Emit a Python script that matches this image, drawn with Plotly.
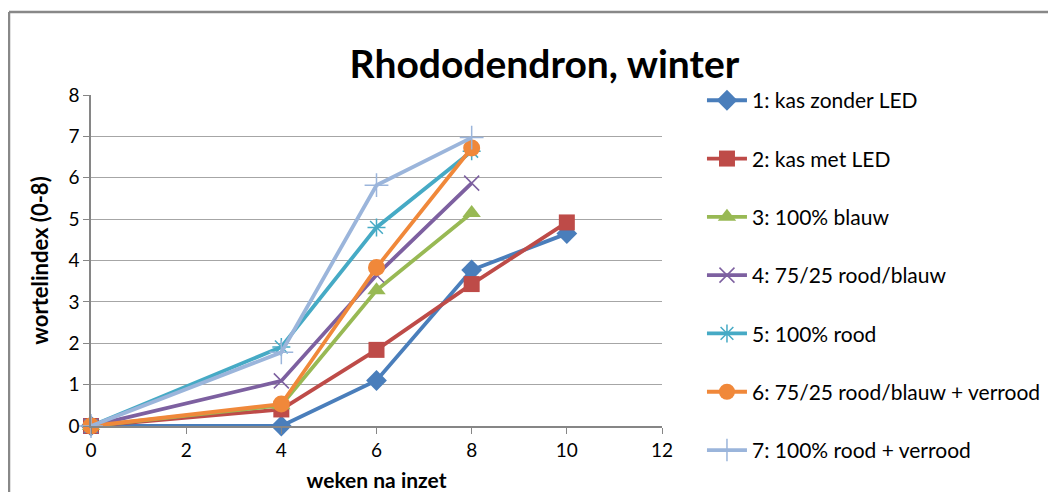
import plotly.graph_objects as go

weeks = [0, 4, 6, 8, 10]
weeks_short = [0, 4, 6, 8]

kas_zonder_led = [0, 0, 1.1, 3.77, 4.65]
kas_met_led = [0, 0.4, 1.84, 3.43, 4.92]
blauw_100 = [0, 0.5, 3.28, 5.15]
rood_blauw_75_25 = [0, 1.09, 3.65, 5.87]
rood_100 = [0, 1.91, 4.8, 6.64]
rood_blauw_verrood = [0, 0.53, 3.83, 6.72]
rood_verrood = [0, 1.78, 5.82, 6.97]

names = ["1: kas zonder LED", "2: kas met LED", "3: 100% blauw", "4: 75/25 rood/blauw",
         "5: 100% rood", "6: 75/25 rood/blauw + verrood", "7: 100% rood + verrood"]

FONT = "Lato"

def marker_style(symbol, size, color):
    if symbol.endswith("-open"):
        return dict(symbol=symbol, size=size, color=color, line=dict(width=1.5, color=color))
    return dict(symbol=symbol, size=size, color=color, line=dict(width=0))

series = [
    (weeks, kas_zonder_led, "#4a7ebb", "diamond", 16),
    (weeks, kas_met_led, "#be4b48", "square", 16),
    (weeks_short, blauw_100, "#98b954", "triangle-up", 16),
    (weeks_short, rood_blauw_75_25, "#7d60a0", "x-thin-open", 15),
    (weeks_short, rood_100, "#46aac5", "asterisk-open", 15),
    (weeks_short, rood_blauw_verrood, "#f0883a", "circle", 17),
    (weeks_short, rood_verrood, "#9bb5db", "cross-thin-open", 17),
]

fig = go.Figure()
for i, (xs, ys, col, sym, sz) in enumerate(series):
    fig.add_trace(go.Scatter(x=xs, y=ys, name=names[i], mode="lines+markers",
                             line=dict(color=col, width=3.8),
                             marker=marker_style(sym, sz, col),
                             cliponaxis=False, legendgroup=str(i)))

# outer chart frame (top and left edges visible)
fig.add_shape(type="line", xref="paper", yref="paper", x0=-0.1436, x1=-0.1436, y0=-0.5, y1=1.2508,
              line=dict(color="#888888", width=2.5))
fig.add_shape(type="line", xref="paper", yref="paper", x0=-0.1436, x1=2.0, y0=1.2508, y1=1.2508,
              line=dict(color="#888888", width=2.5))

fig.update_layout(
    width=1056, height=492,
    margin=dict(l=83, r=402, t=87, b=74, autoexpand=False),
    paper_bgcolor="white", plot_bgcolor="white",
    font=dict(family=FONT, color="#000000", size=19),
    title=dict(text="<b>Rhododendron, winter</b>", x=0.508, xanchor="center",
               y=0.885, yanchor="middle", font=dict(size=39, family=FONT)),
    legend=dict(x=1.07, y=1.045, xanchor="left", yanchor="top", tracegroupgap=28,
                font=dict(size=21, family=FONT), itemwidth=40, bgcolor="rgba(0,0,0,0)",
                maxheight=1.0),
    showlegend=True,
)

fig.update_xaxes(range=[0, 12], tickvals=[0, 2, 4, 6, 8, 10, 12], showgrid=False,
                 showline=True, linecolor="#868686", linewidth=1.5, automargin=False,
                 ticks="outside", ticklen=6, tickcolor="#868686", zeroline=False,
                 title=dict(text="<b>weken na inzet</b>", font=dict(size=21), standoff=14))
fig.update_yaxes(range=[0, 8], dtick=1, showgrid=True, gridcolor="#a6a6a6", gridwidth=1.2,
                 showline=True, linecolor="#868686", linewidth=1.5, automargin=False,
                 ticks="outside", ticklen=6, tickcolor="#868686", zeroline=False,
                 title=dict(text="<b>wortelindex (0-8)</b>", font=dict(size=22), standoff=14))

fig.write_html("out.html")
